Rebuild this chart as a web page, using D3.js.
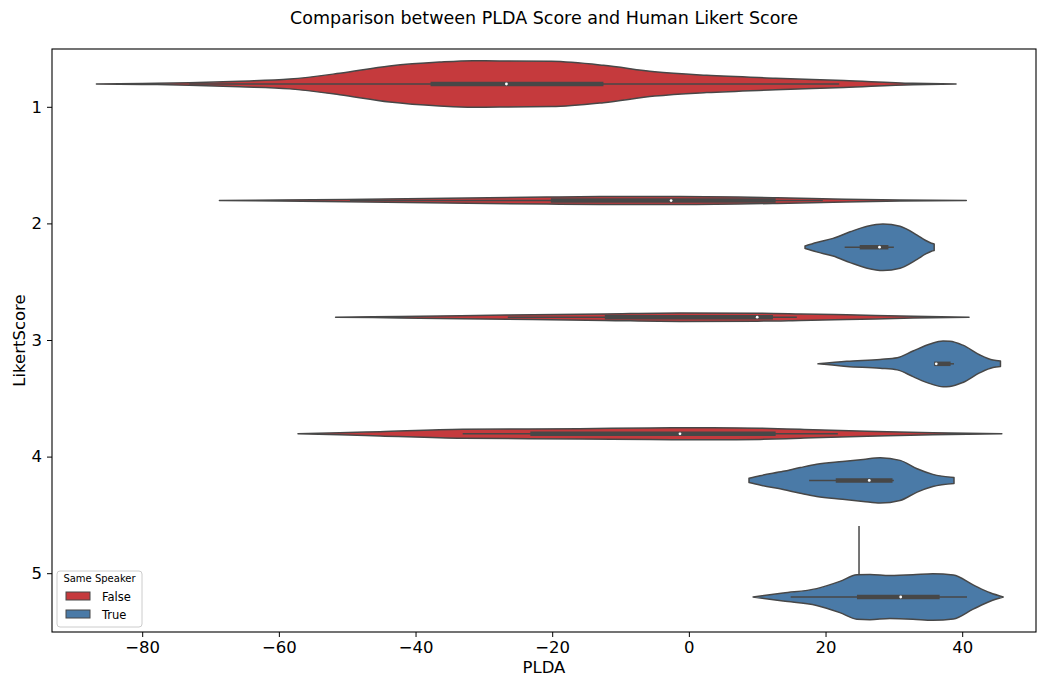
<!DOCTYPE html>
<html>
<head>
<meta charset="utf-8">
<script src="https://cdn.jsdelivr.net/npm/d3@7"></script>
<style>
  body { margin: 0; background: #fff; }
  svg { font-family: "DejaVu Sans", sans-serif; }
</style>
</head>
<body>
<div class="vis-violin"></div>
<script>
// categories on the y axis and hue levels
const categories = ["1", "2", "3", "4", "5"];
const hues = ["False", "True"];
const xTicks = [-80, -60, -40, -20, 0, 20, 40];

// violin outlines: [PLDA, relative density]
const v1False = [[-86.7,0],[-80,0.02],[-73.1,0.05],[-65.7,0.12],[-58.4,0.21],[-51.1,0.46],[-43.8,0.77],[-36.5,0.94],[-31.6,1.0],[-27.7,0.99],[-20.1,0.97],[-12.5,0.80],[-5.0,0.52],[2.6,0.37],[12.7,0.25],[22.7,0.15],[32.8,0.03],[39.1,0]];
const v2False = [[-68.7,0],[-59.9,0.02],[-50.1,0.05],[-35.4,0.10],[-20.8,0.15],[-13.0,0.17],[-1.3,0.17],[12.9,0.12],[21.1,0.07],[30.9,0.02],[40.6,0]];
const v2True  = [[17.0,0.05],[18.7,0.2],[21.1,0.38],[23.6,0.66],[26.1,0.9],[28.4,1.0],[30.9,0.9],[33.4,0.52],[34.6,0.30],[35.5,0.17],[35.9,0.14]];
const v3False = [[-51.7,0],[-42.3,0.03],[-26.6,0.09],[-12.3,0.14],[-1.3,0.18],[10.0,0.17],[16.3,0.14],[23.1,0.10],[32.8,0.04],[41.0,0]];
const v3True  = [[18.9,0],[23.1,0.11],[28.0,0.19],[30.5,0.26],[32.8,0.55],[35.3,0.85],[37.2,0.98],[38.2,0.97],[40.1,0.8],[42.6,0.38],[44.5,0.16],[45.6,0.12]];
const v4False = [[-57.2,0],[-51.1,0.04],[-45.2,0.09],[-33.1,0.19],[-16.0,0.22],[-5.7,0.25],[3.5,0.26],[10.4,0.24],[16.3,0.19],[26.1,0.11],[35.7,0.04],[45.8,0]];
const v4True  = [[8.8,0.09],[10.4,0.2],[13.8,0.39],[16.3,0.55],[18.7,0.69],[22.5,0.81],[25.5,0.9],[28.0,0.97],[30.9,0.86],[33.4,0.5],[35.7,0.26],[38.8,0.13]];
const v5True  = [[9.4,0],[13.8,0.17],[18.7,0.36],[22.1,0.67],[24.6,0.95],[26.5,0.97],[29.4,0.92],[32.8,0.95],[35.7,1.0],[38.7,0.94],[41.6,0.52],[44.1,0.18],[46.0,0]];

// inner box stats: [whisker low, q1, median, q3, whisker high]
const b1False = [-73.1, -37.8, -26.7, -12.5, 22.0];
const b2False = [-49.6, -20.2, -2.6, 12.7, 19.6];
const b2True  = [22.8, 25.0, 27.9, 29.2, 30.0];
const b3False = [-26.5, -12.3, 10.0, 12.3, 15.8];
const b3True  = [35.9, 35.9, 36.2, 38.3, 38.8];
const b4False = [-33.1, -23.2, -1.3, 12.7, 21.8];
const b4True  = [17.6, 21.5, 26.4, 29.8, 30.0];
const b5True  = [14.9, 24.6, 31.0, 36.7, 40.7];

// category 5 / False has a single observation
const single5False = 24.9;

const violins = [
  {cat: "1", hue: "False", profile: v1False, box: b1False},
  {cat: "2", hue: "False", profile: v2False, box: b2False},
  {cat: "2", hue: "True",  profile: v2True,  box: b2True},
  {cat: "3", hue: "False", profile: v3False, box: b3False},
  {cat: "3", hue: "True",  profile: v3True,  box: b3True},
  {cat: "4", hue: "False", profile: v4False, box: b4False},
  {cat: "4", hue: "True",  profile: v4True,  box: b4True},
  {cat: "5", hue: "True",  profile: v5True,  box: b5True}
];

const W = 1038, H = 677;
const margin = {top: 49, right: 2, bottom: 45, left: 52};
const innerWidth = W - margin.left - margin.right;
const innerHeight = H - margin.top - margin.bottom;
const gray = "#474747";

const color = d3.scaleOrdinal().domain(hues).range(["#c53a3d", "#4a7aa7"]);

const svg = d3.select('.vis-violin').append('svg')
  .attr('width', W)
  .attr('height', H);

const graph = svg.append('g')
  .attr('transform', `translate(${margin.left}, ${margin.top})`);

const xScale = d3.scaleLinear()
  .domain([-93.2, 50.8])
  .range([0, innerWidth]);

const yScale = d3.scaleBand()
  .domain(categories)
  .range([0, innerHeight]);

// hue dodge inside each category (seaborn width 0.8)
const hueScale = d3.scaleBand()
  .domain(hues)
  .range([-0.4 * yScale.bandwidth(), 0.4 * yScale.bandwidth()]);

const wScale = d3.scaleLinear()
  .domain([0, 1])
  .range([0, hueScale.bandwidth() / 2]);

const center = (cat, hue) => yScale(cat) + yScale.bandwidth() / 2 + hueScale(hue) + hueScale.bandwidth() / 2;

const drawViolin = v => {
  const cy = center(v.cat, v.hue);
  const area = d3.area()
    .x(d => xScale(d[0]))
    .y0(d => cy - wScale(d[1]))
    .y1(d => cy + wScale(d[1]))
    .curve(d3.curveMonotoneX);
  graph.append('path')
    .attr('d', area(v.profile))
    .attr('fill', color(v.hue))
    .attr('stroke', gray)
    .attr('stroke-width', 1.5)
    .attr('stroke-linejoin', 'round');

  const [lo, q1, med, q3, hi] = v.box;
  graph.append('line')
    .attr('x1', xScale(lo)).attr('x2', xScale(hi))
    .attr('y1', cy).attr('y2', cy)
    .attr('stroke', gray).attr('stroke-width', 1.5);
  graph.append('line')
    .attr('x1', xScale(q1)).attr('x2', xScale(q3))
    .attr('y1', cy).attr('y2', cy)
    .attr('stroke', gray).attr('stroke-width', 4.5);
  graph.append('circle')
    .attr('cx', xScale(med)).attr('cy', cy)
    .attr('r', 1.4)
    .attr('fill', 'white');
};

violins.filter(v => v.cat !== "5").forEach(drawViolin);

// single observation line
const cy5 = center("5", "False");
graph.append('line')
  .attr('x1', xScale(single5False)).attr('x2', xScale(single5False))
  .attr('y1', cy5 - wScale(1.05)).attr('y2', cy5 + wScale(1.05))
  .attr('stroke', gray).attr('stroke-width', 1.5);

violins.filter(v => v.cat === "5").forEach(drawViolin);

// frame
graph.append('rect')
  .attr('width', innerWidth).attr('height', innerHeight)
  .attr('fill', 'none').attr('stroke', '#000').attr('stroke-width', 1.1);

// x axis
const gXAxis = graph.append('g')
  .attr('transform', `translate(0, ${innerHeight})`)
  .call(d3.axisBottom(xScale).tickValues(xTicks).tickSize(5).tickSizeOuter(0).tickPadding(4));
gXAxis.select('.domain').remove();
gXAxis.selectAll('text').attr('font-size', 16.5).attr('fill', '#000').attr('font-family', 'DejaVu Sans');

// y axis
const gYAxis = graph.append('g')
  .call(d3.axisLeft(yScale).tickSize(5).tickSizeOuter(0).tickPadding(5));
gYAxis.select('.domain').remove();
gYAxis.selectAll('text').attr('font-size', 16.5).attr('fill', '#000').attr('font-family', 'DejaVu Sans');

// titles
svg.append('text')
  .attr('x', margin.left + innerWidth / 2).attr('y', 24)
  .attr('text-anchor', 'middle').attr('font-size', 17.5)
  .text('Comparison between PLDA Score and Human Likert Score');
svg.append('text')
  .attr('x', margin.left + innerWidth / 2).attr('y', 673)
  .attr('text-anchor', 'middle').attr('font-size', 16.5)
  .text('PLDA');
svg.append('text')
  .attr('transform', `translate(25, ${margin.top + innerHeight / 2}) rotate(-90)`)
  .attr('text-anchor', 'middle').attr('font-size', 16.5)
  .text('LikertScore');

// legend
const legend = svg.append('g').attr('transform', 'translate(57, 571)');
legend.append('rect')
  .attr('width', 85).attr('height', 56).attr('rx', 3)
  .attr('fill', 'white').attr('fill-opacity', 0.8)
  .attr('stroke', '#cccccc').attr('stroke-width', 1);
legend.append('text')
  .attr('x', 42.5).attr('y', 11).attr('text-anchor', 'middle')
  .attr('font-size', 10).text('Same Speaker');
hues.forEach((h, i) => {
  const row = legend.append('g').attr('transform', `translate(9, ${21 + i * 18})`);
  row.append('rect')
    .attr('width', 24).attr('height', 8)
    .attr('fill', color(h)).attr('stroke', gray).attr('stroke-width', 1);
  row.append('text')
    .attr('x', 36).attr('y', 8.5).attr('font-size', 11.5).text(h);
});
</script>
</body>
</html>
